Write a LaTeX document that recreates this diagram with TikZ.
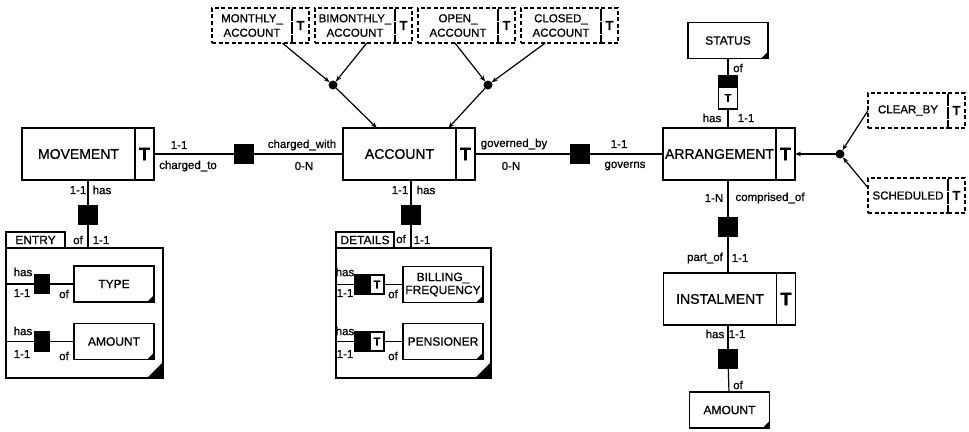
\documentclass[tikz,border=0pt]{standalone}
\usepackage{fontspec}
\setmainfont{Liberation Sans}[RawFeature={embolden=0.8}]
\usetikzlibrary{arrows.meta, positioning}

\begin{document}
\begin{tikzpicture}[
    x=1pt, y=-1pt,
    line width=1.2pt,
    every node/.style={inner sep=0pt, outer sep=0pt, align=center},
    lbl/.style={font=\fontsize{11.5}{12}\selectfont},
    ent/.style={draw, minimum width=113pt, minimum height=52pt,
                font=\fontsize{14}{16}\selectfont},
    tcell/.style={draw, minimum width=19pt, minimum height=52pt,
                  font=\fontsize{18}{18}\selectfont\bfseries},
    attr/.style={draw, minimum width=80pt, minimum height=36pt,
                 font=\fontsize{12}{13}\selectfont,
                 path picture={\fill (path picture bounding box.south east)
                     -- ++(-7pt,0pt) -- ++(7pt,7pt) -- cycle;}},
    subtype/.style={draw, dash pattern=on 4pt off 2.5pt, minimum width=80pt,
                    minimum height=35pt, font=\fontsize{11.5}{14.5}\selectfont},
    subT/.style={draw, dash pattern=on 4pt off 2.5pt, minimum width=17pt,
                 minimum height=35pt, font=\fontsize{13}{14}\selectfont\bfseries},
    grp/.style={draw, minimum width=157pt, minimum height=130pt,
                path picture={\fill (path picture bounding box.south east)
                    -- ++(-16pt,0pt) -- ++(16pt,16pt) -- cycle;}},
    tab/.style={draw, minimum height=16pt, anchor=south west,
                font=\fontsize{12}{12}\selectfont},
    rel/.style={draw, fill=black, minimum width=19pt, minimum height=19pt},
    relT/.style={draw, fill=white, minimum width=14pt, minimum height=19pt,
                 font=\fontsize{11}{11}\selectfont\bfseries},
    gdot/.style={circle, fill=black, minimum size=9pt},
    isa/.style={-{Stealth[length=6pt, width=4.5pt]}}
]
\useasboundingbox (0,0) rectangle (969,431);

% entities
\node[ent] (mov) at (78.5,154) {MOVEMENT};
\node[tcell, right=0pt of mov] (movT) {T};
\node[ent] (acc) at (399.5,154) {ACCOUNT};
\node[tcell, right=0pt of acc] (accT) {T};
\node[ent] (arr) at (719.5,154) {ARRANGEMENT};
\node[tcell, right=0pt of arr] (arrT) {T};
\node[ent] (inst) at (720,299) {INSTALMENT};
\node[tcell, right=0pt of inst] (instT) {T};

% subtypes
\node[subtype] (mon) at (252,25.5) {MONTHLY\_\\ACCOUNT};
\node[subT, right=0pt of mon] (monT) {T};
\node[subtype] (bim) at (355,25.5) {BIMONTHLY\_\\ACCOUNT};
\node[subT, right=0pt of bim] (bimT) {T};
\node[subtype] (opn) at (458,25.5) {OPEN\_\\ACCOUNT};
\node[subT, right=0pt of opn] (opnT) {T};
\node[subtype] (clo) at (561,25.5) {CLOSED\_\\ACCOUNT};
\node[subT, right=0pt of clo] (cloT) {T};
\node[subtype] (clr) at (908,110.5) {CLEAR\_BY};
\node[subT, right=0pt of clr] (clrT) {T};
\node[subtype] (sch) at (908,195.5) {SCHEDULED};
\node[subT, right=0pt of sch] (schT) {T};

% groups
\node[grp] (entry) at (84.5,313) {};
\node[tab, minimum width=59pt] (entryTab) at (entry.north west) {ENTRY};
\node[grp, minimum width=155pt] (det) at (413.5,313) {};
\node[tab, minimum width=58pt] (detTab) at (det.north west) {DETAILS};

% attributes
\node[attr] (type) at (114,284) {TYPE};
\node[attr] (amtE) at (114,341.5) {AMOUNT};
\node[attr] (bill) at (443,284.5) {BILLING\_\\FREQUENCY};
\node[attr] (pen) at (443,341.5) {PENSIONER};
\node[attr] (status) at (728,40.5) {STATUS};
\node[attr] (amtI) at (729.5,410) {AMOUNT};

% relationships
\node[rel] (chg) at (244,154) {};
\node[rel] (gov) at (580,154) {};
\node[rel] (movRel) at (88,215) {};
\node[rel] (accRel) at (411,215) {};
\node[rel, minimum width=15pt] (typeRel) at (42,284) {};
\node[rel, minimum width=15pt] (amtRel) at (42,341.5) {};
\node[rel, minimum width=15pt] (billRel) at (362.5,284.5) {};
\node[relT, right=0pt of billRel] (billT) {T};
\node[rel, minimum width=15pt] (penRel) at (362.5,341.5) {};
\node[relT, right=0pt of penRel] (penT) {T};
\node[rel, minimum height=11pt] (statRel) at (728,81.5) {};
\node[relT, minimum width=19pt, minimum height=22pt, below=0pt of statRel] (statT) {T};
\node[rel] (instRel) at (728,227) {};
\node[rel] (amtIRel) at (728,359) {};

\node[gdot] (gAcc1) at (333,85) {};
\node[gdot] (gAcc2) at (488,85) {};
\node[gdot] (gArr) at (840,154) {};

% connectors
\draw (movT) -- (chg) -- (acc);
\draw (accT) -- (gov) -- (arr);
\draw (movRel) -- (movRel |- mov.south);
\draw (movRel) -- (movRel |- entry.north);
\draw (accRel) -- (accRel |- acc.south);
\draw (accRel) -- (accRel |- det.north);
\draw (status) -- (statRel);
\draw (statT) -- (statT |- arr.north);
\draw (instRel) -- (instRel |- arr.south);
\draw (instRel) -- (instRel |- inst.north);
\draw (amtIRel) -- (amtIRel |- inst.south);
\draw (amtIRel) -- (amtI);
\draw (typeRel) -- (typeRel -| entry.west);
\draw (typeRel) -- (type);
\draw (amtRel) -- (amtRel -| entry.west);
\draw (amtRel) -- (amtE);
\draw (billRel) -- (billRel -| det.west);
\draw (billT) -- (bill);
\draw (penRel) -- (penRel -| det.west);
\draw (penT) -- (pen);

\draw[isa] (mon.-30) -- (gAcc1);
\draw[isa] (bim.-56) -- (gAcc1);
\draw[isa] (gAcc1) -- (acc.131);
\draw[isa] (opn.-100) -- (gAcc2);
\draw[isa] (clo.-132) -- (gAcc2);
\draw[isa] (gAcc2) -- (acc.28);
\draw[isa] (clr.west) -- (gArr);
\draw[isa] (sch.169) -- (gArr);
\draw[isa] (gArr) -- (arrT);

% labels
\node[lbl] (chgToCard) at (179,145) {1-1};
\node[lbl] (chgTo) at (188,166) {charged\_to};
\node[lbl] (chgWith) at (302,145) {charged\_with};
\node[lbl] (chgWithCard) at (304,166) {0-N};
\node[lbl] (govBy) at (514,144) {governed\_by};
\node[lbl] (govByCard) at (511,166) {0-N};
\node[lbl] (govsCard) at (619,144) {1-1};
\node[lbl] (govs) at (625,166) {governs};

\node[lbl] (movHasCard) at (78,190) {1-1};
\node[lbl] (movHas) at (102,190) {has};
\node[lbl] (entOf) at (78,240) {of};
\node[lbl] (entOfCard) at (101,240) {1-1};
\node[lbl] (accHasCard) at (400,190) {1-1};
\node[lbl] (accHas) at (426,190) {has};
\node[lbl] (detOf) at (401,239) {of};
\node[lbl] (detOfCard) at (422,240) {1-1};

\node[lbl] (typeHas) at (23,272) {has};
\node[lbl] (typeCard) at (22,293) {1-1};
\node[lbl] (typeOf) at (64,294) {of};
\node[lbl] (amtHas) at (23,331) {has};
\node[lbl] (amtCard) at (22,354) {1-1};
\node[lbl] (amtOf) at (64,356) {of};
\node[lbl] (billHas) at (345,272) {has};
\node[lbl] (billCard) at (345,293) {1-1};
\node[lbl] (billOf) at (393,294) {of};
\node[lbl] (penHas) at (345,331) {has};
\node[lbl] (penCard) at (345,354) {1-1};
\node[lbl] (penOf) at (393,356) {of};

\node[lbl] (statOf) at (738,68) {of};
\node[lbl] (statHas) at (712,118) {has};
\node[lbl] (statCard) at (746,118) {1-1};
\node[lbl] (compCard) at (714,198) {1-N};
\node[lbl] (comp) at (770,198) {comprised\_of};
\node[lbl] (partOf) at (705,258) {part\_of};
\node[lbl] (partCard) at (740,258) {1-1};
\node[lbl] (instHas) at (715,334) {has};
\node[lbl] (instCard) at (737,334) {1-1};
\node[lbl] (amtIOf) at (738,385) {of};
\end{tikzpicture}
\end{document}
